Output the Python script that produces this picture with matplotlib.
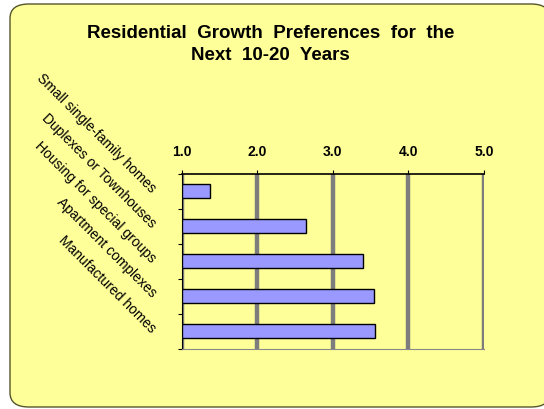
import matplotlib
matplotlib.use('Agg')
import matplotlib.pyplot as plt
from matplotlib.patches import FancyBboxPatch

# Data
categories = ['Small single-family homes', 'Duplexes or Townhouses',
              'Housing for special groups', 'Apartment complexes',
              'Manufactured homes']
scores = [1.38, 2.65, 3.40, 3.54, 3.56]
x_ticks = [1.0, 2.0, 3.0, 4.0, 5.0]
x_tick_labels = ['1.0', '2.0', '3.0', '4.0', '5.0']
title = 'Residential  Growth  Preferences  for  the\nNext  10-20  Years'

plt.rcParams['font.family'] = ['Liberation Sans', 'DejaVu Sans']

fig = plt.figure(figsize=(5.44, 4.10), dpi=100)
fig.patch.set_facecolor('white')

# rounded yellow background panel
panel = FancyBboxPatch((10 / 544, 2 / 410), 540 / 544, 403 / 410,
                       boxstyle='round,pad=0,rounding_size=0.035',
                       transform=fig.transFigure, facecolor='#FFFF99',
                       edgecolor='#55552a', linewidth=1.0, zorder=-5)
fig.patches.append(panel)

fig.text(0.497, 0.94, title, ha='center', va='top', fontsize=13.5,
         fontweight='bold', linespacing=1.4)

ax = fig.add_axes([181.5 / 544, 1 - 349.5 / 410, 302.5 / 544, 175 / 410])
ax.set_facecolor('none')
ax.set_zorder(2)

n = len(categories)
ypos = [i + 0.5 for i in range(n)]
ax.barh(ypos, [s - 1.0 for s in scores], left=1.0, height=0.4,
        color='#9999FF', edgecolor='black', linewidth=1.0, zorder=3)

for x in x_ticks:
    ax.axvline(x, color='#7d7d7d', linewidth=3.2, zorder=1)

ax.set_xlim(1.0, 5.0)
ax.set_ylim(n, 0)
ax.xaxis.tick_top()
ax.set_xticks(x_ticks)
ax.set_xticklabels(x_tick_labels, fontsize=10, fontweight='bold')
ax.tick_params(axis='x', length=3, pad=8, width=0.8)

ax.set_yticks(range(n + 1))
ax.set_yticklabels([])
ax.tick_params(axis='y', length=3, width=0.8)

for y, lab in zip(ypos, categories):
    ax.annotate(lab, xy=(0, y), xycoords=('axes fraction', 'data'),
                xytext=(-20, 1), textcoords='offset points',
                rotation=-45, rotation_mode='anchor', ha='right',
                va='center', fontsize=10)

ax.spines['top'].set_color('black')
ax.spines['top'].set_linewidth(1.2)
ax.spines['left'].set_color('black')
ax.spines['right'].set_visible(False)
ax.spines['bottom'].set_color('#888888')

fig.savefig('out.png', dpi=100)
